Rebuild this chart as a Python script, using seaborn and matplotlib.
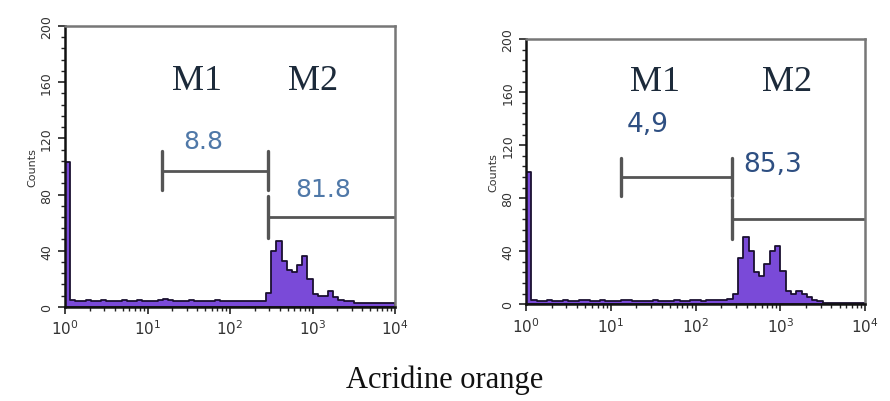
import numpy as np
import pandas as pd
import seaborn as sns
import matplotlib
matplotlib.use("Agg")
import matplotlib.pyplot as plt
from matplotlib.ticker import FixedLocator

# ---- data ----
n_bins = 64
log_edges = list(np.linspace(0, 4, n_bins + 1))

left_counts = [103, 5, 4, 4, 5, 4, 4, 5, 4, 4, 4, 5, 4, 4, 5, 4,
               4, 4, 5, 6, 5, 4, 4, 4, 5, 4, 4, 4, 4, 5, 4, 4,
               4, 4, 4, 4, 4, 4, 4, 10, 40, 47, 33, 26, 25, 30, 36, 20,
               9, 8, 8, 11, 7, 5, 4, 4, 3, 3, 3, 3, 3, 3, 3, 3]
right_counts = [100, 3, 2, 2, 3, 2, 2, 3, 2, 2, 3, 3, 2, 2, 3, 2,
                2, 2, 3, 3, 2, 2, 2, 2, 3, 2, 2, 2, 3, 2, 2, 3,
                3, 2, 3, 3, 3, 3, 4, 8, 35, 51, 40, 24, 21, 30, 40, 44,
                25, 10, 8, 10, 8, 5, 3, 2, 1, 1, 1, 1, 1, 1, 1, 1]

# gate / label positions in log10 units
panels = {
    "left": dict(counts=left_counts, m1=(1.18, 2.46), m1_y=97,
                 m2=(2.46, 4.0), m2_y=64,
                 m1_pct="8.8", m2_pct="81.8",
                 m1_pct_pos=(1.67, 118), m2_pct_pos=(3.13, 84),
                 m_label_pos=((1.6, 161), (3.0, 161)),
                 num_color="#4f78a8", num_size=18),
    "right": dict(counts=right_counts, m1=(1.12, 2.43), m1_y=96,
                  m2=(2.43, 4.0), m2_y=64,
                  m1_pct="4,9", m2_pct="85,3",
                  m1_pct_pos=(1.44, 136), m2_pct_pos=(2.91, 106),
                  m_label_pos=((1.52, 168), (3.08, 168)),
                  num_color="#2e4f82", num_size=19),
}

y_ticks = [0, 40, 80, 120, 160, 200]
x_ticks = [0, 1, 2, 3, 4]
x_tick_labels = ["$10^0$", "$10^1$", "$10^2$", "$10^3$", "$10^4$"]
x_label = "Acridine orange"
y_label = "Counts"

sns.set_theme(style="white")
plt.rcParams["font.family"] = ["DejaVu Sans"]

fig = plt.figure(figsize=(8.9, 4.02), dpi=100)
ax_l = fig.add_axes([0.073, 0.234, 0.371, 0.699])
ax_r = fig.add_axes([0.591, 0.241, 0.381, 0.659])

centers = [(a + b) / 2 for a, b in zip(log_edges[:-1], log_edges[1:])]
minor_x = [np.log10(m * 10 ** d) for d in range(4) for m in range(2, 10)]

for ax, key in [(ax_l, "left"), (ax_r, "right")]:
    p = panels[key]
    df = pd.DataFrame({"x": centers, "w": p["counts"]})
    sns.histplot(data=df, x="x", weights="w", bins=log_edges, element="step",
                 fill=True, color="#7a4ad8", alpha=1.0, edgecolor="#1a1030",
                 linewidth=1.3, ax=ax)
    ax.set_xlim(0, 4)
    ax.set_ylim(0, 200)
    # gates
    gc = "#555555"
    ax.plot(p["m1"], [p["m1_y"]] * 2, color=gc, lw=2.0)
    for xv in p["m1"]:
        ax.plot([xv, xv], [p["m1_y"] - 14, p["m1_y"] + 14], color=gc, lw=2.4)
    ax.plot(p["m2"], [p["m2_y"]] * 2, color=gc, lw=2.0)
    ax.plot([p["m2"][0]] * 2, [p["m2_y"] - 15, p["m2_y"] + 15], color=gc, lw=2.4)
    # labels
    (m1x, m1y), (m2x, m2y) = p["m_label_pos"]
    ax.text(m1x, m1y, "M1", family="Liberation Serif", fontsize=26,
            ha="center", va="center", color="#1c2a3a")
    ax.text(m2x, m2y, "M2", family="Liberation Serif", fontsize=26,
            ha="center", va="center", color="#1c2a3a")
    ax.text(*p["m1_pct_pos"], p["m1_pct"], fontsize=p["num_size"], ha="center",
            va="center", color=p["num_color"])
    ax.text(*p["m2_pct_pos"], p["m2_pct"], fontsize=p["num_size"], ha="center",
            va="center", color=p["num_color"])
    # axes styling
    ax.set_xticks(x_ticks)
    ax.set_xticklabels(x_tick_labels, fontsize=11, color="#333333")
    ax.xaxis.set_minor_locator(FixedLocator(minor_x))
    ax.set_yticks(y_ticks)
    ax.set_yticklabels([str(v) for v in y_ticks], fontsize=9, rotation=90,
                       va="center", color="#333333")
    ax.yaxis.set_minor_locator(FixedLocator(list(range(0, 201, 8))))
    ax.tick_params(axis="both", which="major", length=5, width=1.2,
                   color="#222222", direction="out", bottom=True, left=True)
    ax.tick_params(axis="both", which="minor", length=3, width=1,
                   color="#222222", direction="out", bottom=True, left=True)
    ax.set_xlabel("")
    ax.set_ylabel(y_label, fontsize=8, color="#333333", labelpad=2)
    for side in ["top", "right"]:
        ax.spines[side].set_color("#777777")
        ax.spines[side].set_linewidth(1.8)
    for side in ["left", "bottom"]:
        ax.spines[side].set_color("#111111")
        ax.spines[side].set_linewidth(1.8)
        ax.spines[side].set_visible(True)

fig.text(0.5, 0.053, x_label, family="Liberation Serif", fontsize=22,
         ha="center", va="center", color="#111111")

fig.savefig("out.png", dpi=100, facecolor="white")
